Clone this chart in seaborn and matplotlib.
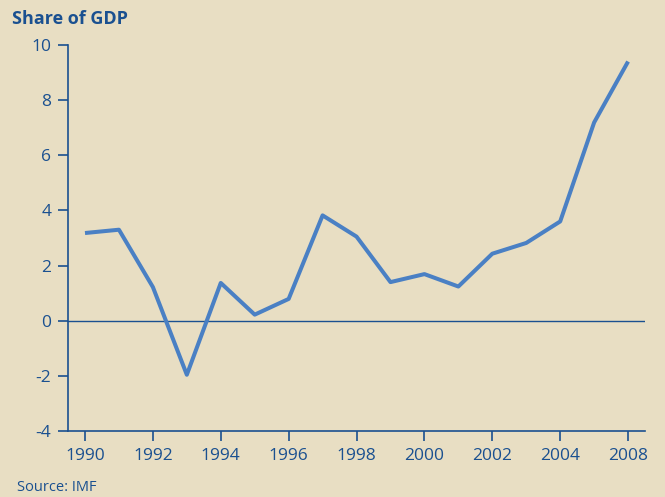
import matplotlib

matplotlib.use("Agg")
import matplotlib.pyplot as plt
import pandas as pd
import seaborn as sns


# positions run 1990..2006; the source labels the last tick "2008"
YEARS = list(range(1990, 2007))
SHARE = [3.18, 3.30, 1.22, -1.96, 1.37, 0.22, 0.79, 3.82, 3.05, 1.40,
         1.69, 1.24, 2.43, 2.82, 3.60, 7.19, 9.40]
XTICKS = [1990, 1992, 1994, 1996, 1998, 2000, 2002, 2004, 2006]
XLABELS = ["1990", "1992", "1994", "1996", "1998", "2000", "2002", "2004", "2008"]
YTICKS = [-4, -2, 0, 2, 4, 6, 8, 10]

BG = "#e8dec3"
NAVY = "#1a5090"
LINE = "#4a80c4"


def main() -> None:
    sns.set_theme(style="ticks")
    plt.rcParams["font.family"] = ["Open Sans", "DejaVu Sans"]

    df = pd.DataFrame({"year": YEARS, "share": SHARE})

    fig = plt.figure(figsize=(6.65, 4.97), dpi=100, facecolor=BG)
    ax = fig.add_axes([0.1023, 0.1328, 0.8677, 0.7767], facecolor=BG)

    ax.axhline(0, color=NAVY, lw=1.0, zorder=1)
    sns.lineplot(data=df, x="year", y="share", ax=ax, color=LINE, lw=2.9,
                 solid_capstyle="butt", zorder=3)

    ax.set_xlim(1989.5, 2006.5)
    ax.set_ylim(-4, 10)
    ax.set_xticks(XTICKS, XLABELS)
    ax.set_yticks(YTICKS, [str(v) for v in YTICKS])
    ax.set_xlabel("")
    ax.set_ylabel("")

    for side in ["top", "right"]:
        ax.spines[side].set_visible(False)
    for side in ["left", "bottom"]:
        ax.spines[side].set_color(NAVY)
        ax.spines[side].set_linewidth(1.2)
    ax.tick_params(colors=NAVY, labelcolor=NAVY, labelsize=12.5, width=1.2,
                   length=7, direction="out", pad=5)

    fig.text(0.018, 0.962, "Share of GDP", color=NAVY, fontsize=13,
             fontweight="bold", ha="left", va="center")
    fig.text(0.025, 0.02, "Source: IMF", color=NAVY, fontsize=10.5,
             ha="left", va="center")

    fig.savefig("out.png", dpi=100, facecolor=BG)
    plt.close(fig)


if __name__ == "__main__":
    main()
